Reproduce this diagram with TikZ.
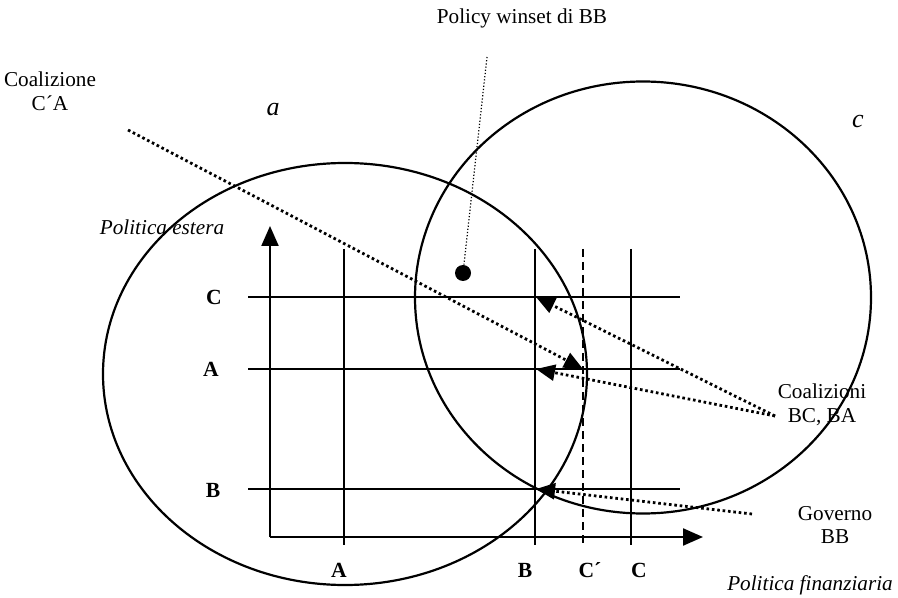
\documentclass[tikz,border=0pt]{standalone}
\usepackage{fontspec}
\setmainfont{Liberation Serif}
\usetikzlibrary{arrows.meta}
\tikzset{lbl/.style={inner sep=0pt,align=center,font=\fontsize{10.6}{11.8}\selectfont},
  itlbl/.style={lbl,font=\fontsize{10.6}{11.8}\selectfont\itshape},
  setlbl/.style={lbl,font=\fontsize{13}{15}\selectfont\itshape},
  ticklbl/.style={lbl,font=\fontsize{10.8}{11.8}\selectfont\bfseries},
  gridln/.style={line width=1.1pt},
  axisln/.style={line width=1.1pt,-{Triangle[length=10pt,width=8.5pt]}},
  coalarr/.style={line width=1.4pt,dash pattern=on 1.3pt off 1.4pt,-{Triangle[length=9.5pt,width=8pt]}},
  winsetln/.style={line width=0.6pt,dash pattern=on 0.6pt off 1pt}}

\begin{document}
\begin{tikzpicture}[x=0.5pt,y=-0.5pt]
\useasboundingbox (0,0) rectangle (898,598);
\draw[line width=1.1pt] (345,374) ellipse [x radius=242,y radius=211];
\draw[line width=1.1pt] (643,297.5) ellipse [x radius=228,y radius=216];
\draw[axisln] (270,537) -- (270,226);
\draw[axisln] (270,537) -- (703,537);
\foreach \yy in {297,369,489}
  \draw[gridln] (248,\yy) -- (680,\yy);
\foreach \xx in {344,535,631}
  \draw[gridln] (\xx,249) -- (\xx,545);
\draw[gridln,dash pattern=on 4pt off 2.5pt] (583,249) -- (583,545);
\node[ticklbl] (yC) at (214,297) {C};
\node[ticklbl] (yA) at (211,369) {A};
\node[ticklbl] (yB) at (213,490) {B};
\node[ticklbl] (xA) at (339,570) {A};
\node[ticklbl] (xB) at (525,570) {B};
\node[ticklbl] (xCp) at (590,570) {C´};
\node[ticklbl] (xC) at (639,570) {C};
\node[itlbl] (estera) at (162,227) {Politica estera};
\node[itlbl] (finanz) at (810,585) {Politica finanziaria};
\node[setlbl] (seta) at (273,110) {a};
\node[setlbl] (setc) at (858,122) {c};
\node[lbl] (winset) at (522,18) {Policy winset di BB};
\node[lbl] (coalCA) at (50,91) {Coalizione\\C´A};
\node[lbl] (coalBCBA) at (822,405) {Coalizioni\\BC, BA};
\node[lbl] (govBB) at (835,525) {Governo\\BB};
\node[circle,fill,inner sep=0pt,minimum size=8pt] (bbdot) at (463,273) {};
\coordinate (winsettop) at (487,57);
\coordinate (fromCA) at (128,130);
\coordinate (fromBC) at (775,416);
\coordinate (fromBB) at (752,514);
\coordinate (ptBC) at (536,297);
\coordinate (ptBA) at (536,369);
\coordinate (ptBB) at (536,489);
\coordinate (ptCA) at (583,369);
\draw[winsetln] (winsettop) -- (bbdot);
\draw[coalarr] (fromCA) -- (ptCA);
\draw[coalarr] (fromBC) -- (ptBC);
\draw[coalarr] (fromBC) -- (ptBA);
\draw[coalarr] (fromBB) -- (ptBB);
\end{tikzpicture}
\end{document}
